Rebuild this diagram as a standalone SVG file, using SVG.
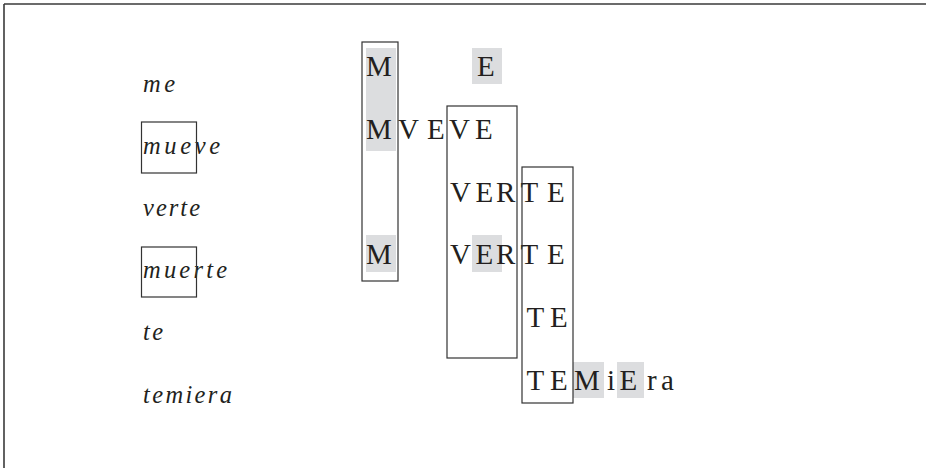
<svg xmlns="http://www.w3.org/2000/svg" width="926" height="468" viewBox="0 0 926 468">
<style>
.frame{stroke:#3a3a3a;stroke-width:1.6;fill:none}
.box{fill:none;stroke:#333;stroke-width:1.2}
.hl{fill:#dcdddf}
.it{font-family:"Liberation Serif",serif;font-style:italic;font-size:24.5px;fill:#231f20}
.up{font-family:"Liberation Serif",serif;font-size:29px;fill:#231f20}
</style>
<rect width="926" height="468" fill="#fff"/>
<g id="frame">
<line class="frame" x1="4" y1="4" x2="926" y2="4"/>
<line class="frame" x1="4" y1="4" x2="4" y2="468"/>
</g>
<g id="highlights">
<rect class="hl" x="366" y="48" width="30" height="103"/>
<rect class="hl" x="472" y="48" width="30" height="36"/>
<rect class="hl" x="366" y="235" width="30" height="37"/>
<rect class="hl" x="472" y="235" width="30" height="37"/>
<rect class="hl" x="573" y="362" width="31" height="36"/>
<rect class="hl" x="617" y="362" width="27" height="36"/>
</g>
<g id="words">
<text class="it" x="143" y="92" textLength="32" lengthAdjust="spacing">me</text>
<text class="it" x="143" y="154" textLength="77" lengthAdjust="spacing">mueve</text>
<text class="it" x="143" y="216" textLength="57" lengthAdjust="spacing">verte</text>
<text class="it" x="143" y="278" textLength="84" lengthAdjust="spacing">muerte</text>
<text class="it" x="143" y="340" textLength="20" lengthAdjust="spacing">te</text>
<text class="it" x="143" y="403" textLength="89" lengthAdjust="spacing">temiera</text>
</g>
<g id="letters">
<text class="up" x="366" y="76">M</text>
<text class="up" x="477" y="76">E</text>
<text class="up" x="366 398 427 449 475" y="138.5">MVEVE</text>
<text class="up" x="450 475.5 496 520.5 547" y="201.5">VERTE</text>
<text class="up" x="366" y="264">M</text>
<text class="up" x="450 475.5 496 520.5 547" y="264">VERTE</text>
<text class="up" x="526.5 550" y="327">TE</text>
<text class="up" x="526.5 550 574 607 619.5 647 661" y="390">TEMiEra</text>
</g>
<g id="boxes">
<rect class="box" x="141.5" y="122" width="55" height="51"/>
<rect class="box" x="141.5" y="247" width="55" height="50"/>
<rect class="box" x="362" y="42" width="36" height="239"/>
<rect class="box" x="447" y="106" width="70" height="252"/>
<rect class="box" x="522" y="167" width="51" height="236"/>
</g>
</svg>
